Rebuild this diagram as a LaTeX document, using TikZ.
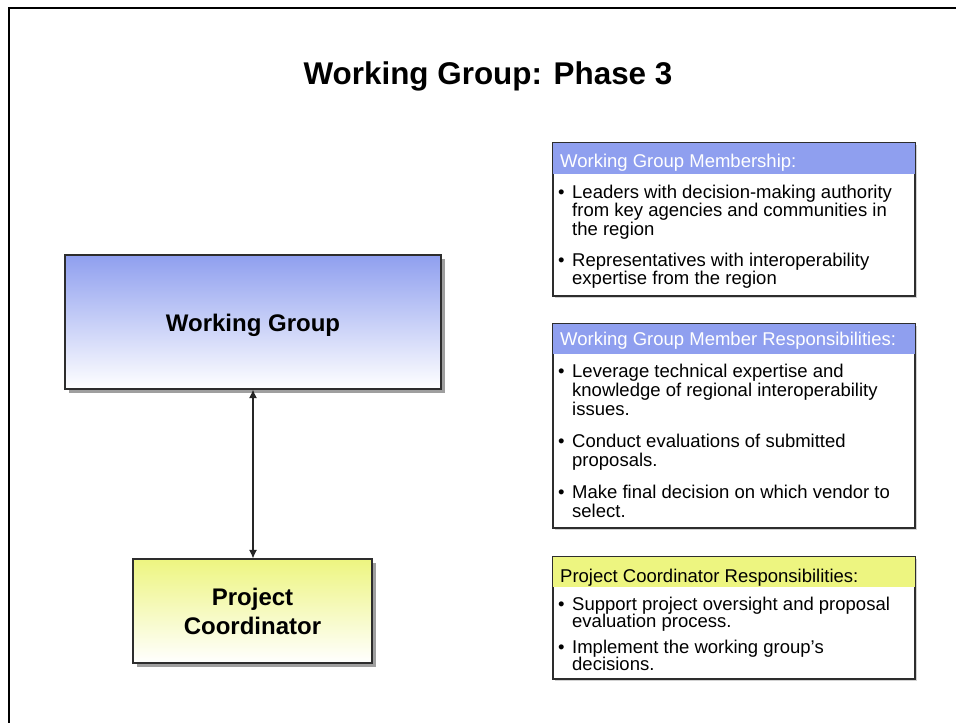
\documentclass[tikz,border=0pt]{standalone}
\usepackage{fontspec}
\setmainfont{Liberation Sans}
\usetikzlibrary{shadows,arrows.meta}
\definecolor{wgblue}{RGB}{143,159,239}
\definecolor{pcyellow}{RGB}{237,245,128}
\definecolor{boxline}{RGB}{45,45,45}
\newcommand{\bulletitem}[2]{\fontsize{18.5}{#1}\selectfont\makebox[14.5pt][l]{\hspace{0.5pt}\textbullet}\parbox[t]{330pt}{\fontsize{18.5}{#1}\selectfont\lineskiplimit=-100pt\raggedright #2}}
\begin{document}
\begin{tikzpicture}[x=1pt,y=-1pt,
  bigbox/.style={draw=boxline, line width=1.2pt, rectangle, inner sep=0pt,
    drop shadow={shadow xshift=3.5pt, shadow yshift=-3.5pt, fill=gray!75, opacity=1}},
  infobox/.style={draw=boxline, line width=1.1pt, fill=white, rectangle, inner sep=0pt,
    drop shadow={shadow xshift=1.5pt, shadow yshift=-1.5pt, fill=gray!35, opacity=1}},
  bigtext/.style={font=\fontsize{24}{29}\selectfont\bfseries, anchor=base, inner sep=0pt},
  headtext/.style={font=\fontsize{18.5}{19}\selectfont, anchor=base west, inner sep=0pt},
  itemtext/.style={anchor=base west, inner sep=0pt},
  linkarrow/.style={line width=1.2pt, draw=black!85, {Latex[length=8.5pt,width=8pt]}-{Latex[length=8.5pt,width=8pt]}},
]
\useasboundingbox (0,0) rectangle (956,723);
% frame
\draw[line width=2.2pt] (9,740) -- (9,8) -- (970,8);
% title
\node[font=\fontsize{31.4}{36}\selectfont\bfseries, anchor=base, inner sep=0pt] (title) at (488,84) {Working Group: Phase 3};
% left boxes
\node[bigbox, top color=wgblue, bottom color=white, minimum width=376pt, minimum height=134pt] (wg) at (253,322) {};
\node[bigtext] (wgt) at (253,331) {Working Group};
\node[bigbox, top color=pcyellow, bottom color=white, minimum width=239pt, minimum height=104pt] (pc) at (252.5,611) {};
\node[bigtext] (pct1) at (252.5,605) {Project};
\node[bigtext] (pct2) at (252.5,634) {Coordinator};
\draw[linkarrow] (wg.south) -- (wg.south |- pc.north);
% box 1
\node[infobox, minimum width=362pt, minimum height=153pt] (b1) at (734,219.5) {};
\fill[wgblue] (b1.north west) rectangle (b1.east |- 0,174);
\draw[draw=boxline, line width=1.1pt] (b1.north west) rectangle (b1.south east);
\node[headtext, text=white] (h1) at (560,167) {Working Group Membership:};
\node[itemtext] (i11) at (557.5,198) {\bulletitem{18.5}{Leaders with decision-making authority\\from key agencies and communities in\\the region}};
\node[itemtext] (i12) at (557.5,266) {\bulletitem{18.5}{Representatives with interoperability\\expertise from the region}};
% box 2
\node[infobox, minimum width=362pt, minimum height=204pt] (b2) at (734,426) {};
\fill[wgblue] (b2.north west) rectangle (b2.east |- 0,354);
\draw[draw=boxline, line width=1.1pt] (b2.north west) rectangle (b2.south east);
\node[headtext, text=white] (h2) at (560,345) {Working Group Member Responsibilities:};
\node[itemtext] (i21) at (557.5,377) {\bulletitem{19}{Leverage technical expertise and\\knowledge of regional interoperability\\issues.}};
\node[itemtext] (i22) at (557.5,447) {\bulletitem{19.5}{Conduct evaluations of submitted\\proposals.}};
\node[itemtext] (i23) at (557.5,498) {\bulletitem{19}{Make final decision on which vendor to\\select.}};
% box 3
\node[infobox, minimum width=362pt, minimum height=122pt] (b3) at (734,618) {};
\fill[pcyellow] (b3.north west) rectangle (b3.east |- 0,587);
\draw[draw=boxline, line width=1.1pt] (b3.north west) rectangle (b3.south east);
\node[headtext, text=black] (h3) at (560,582) {Project Coordinator Responsibilities:};
\node[itemtext] (i31) at (557.5,610) {\bulletitem{17.5}{Support project oversight and proposal\\evaluation process.}};
\node[itemtext] (i32) at (557.5,653) {\bulletitem{17.5}{Implement the working group’s\\decisions.}};
\end{tikzpicture}
\end{document}
